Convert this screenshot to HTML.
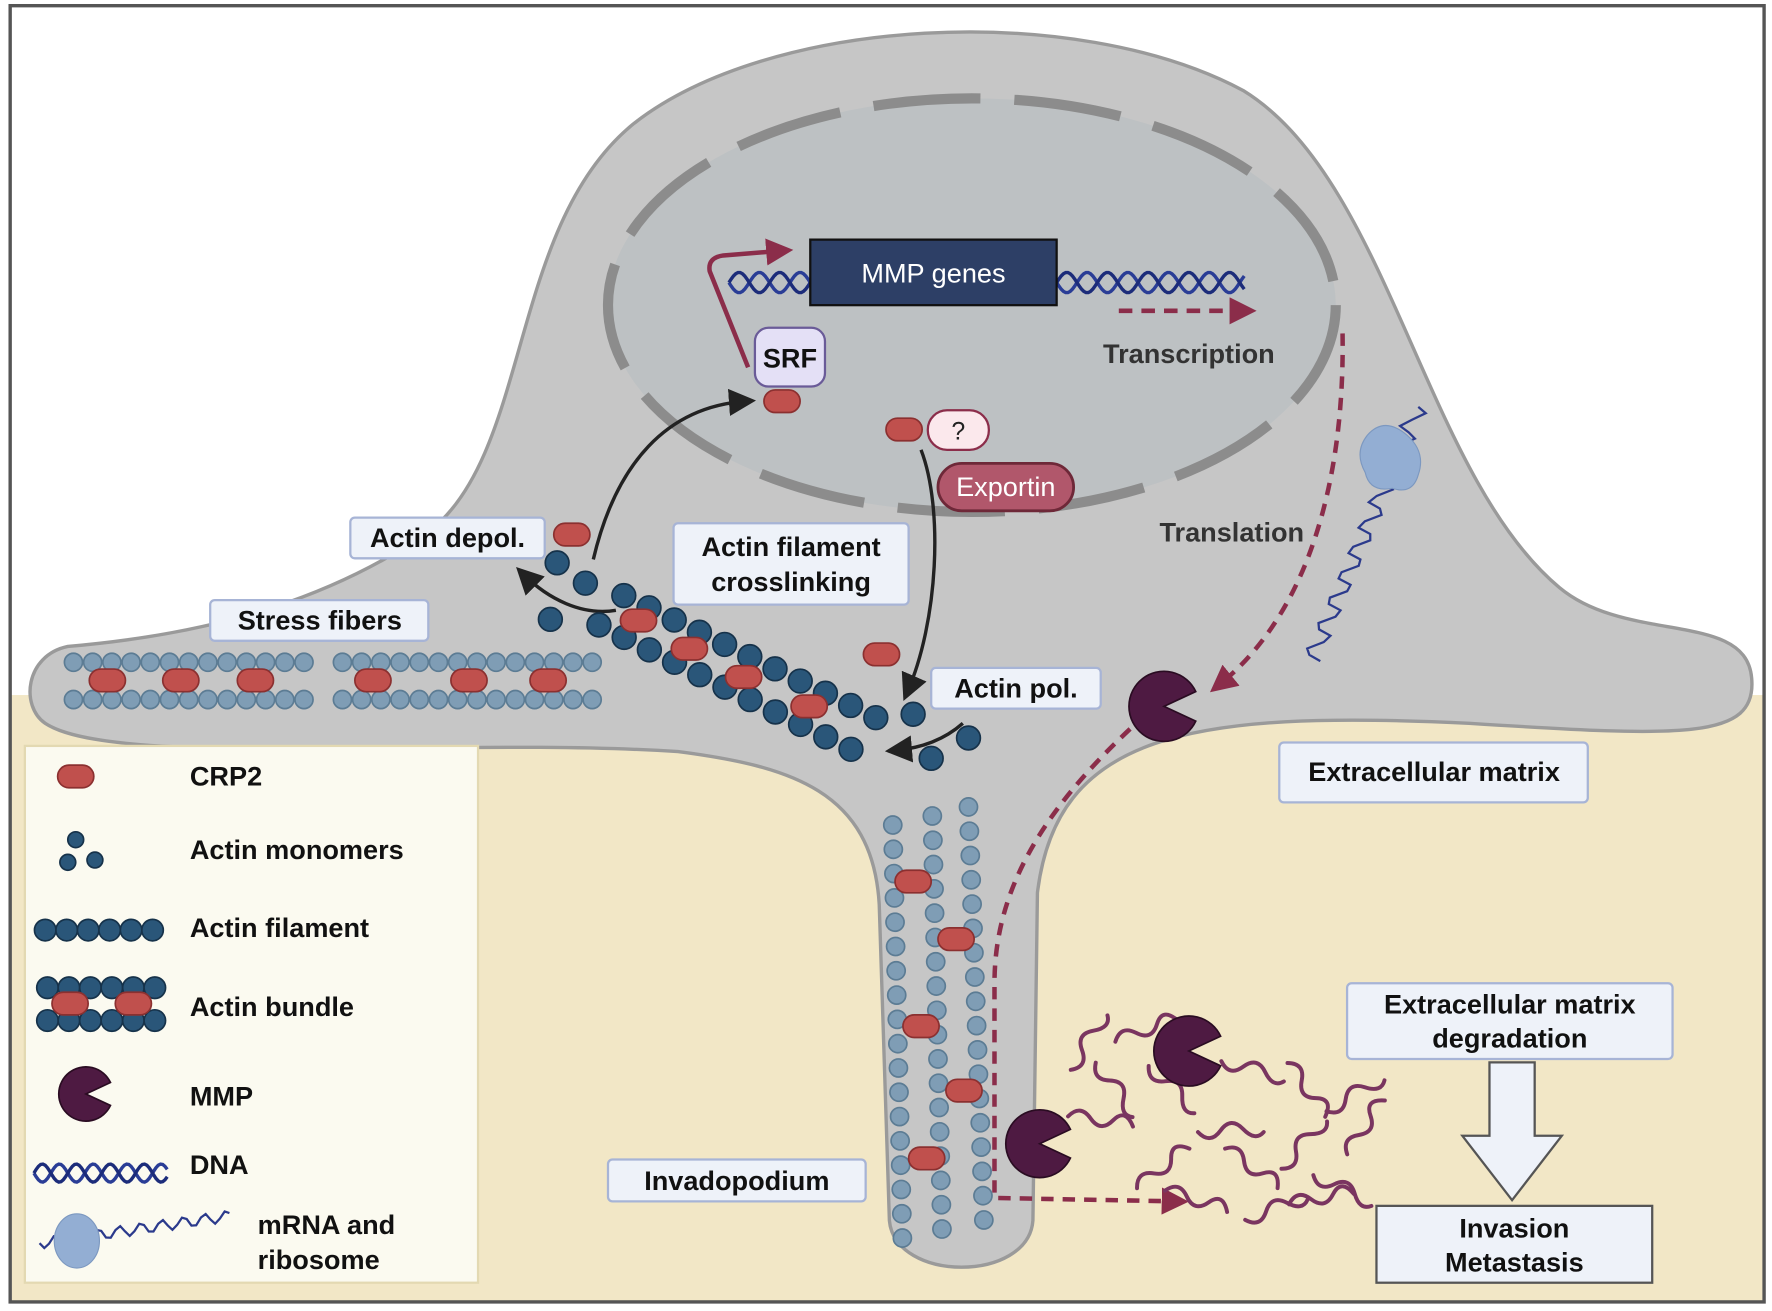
<!DOCTYPE html>
<html><head><meta charset="utf-8">
<style>
html,body{margin:0;padding:0;background:#fff;}
svg{display:block;}
text{font-family:"Liberation Sans",sans-serif;}
</style></head>
<body>
<svg id="s" width="1772" height="1311" viewBox="0 0 1568 1160" xmlns="http://www.w3.org/2000/svg">
<defs>
<marker id="ab" markerWidth="8" markerHeight="8" refX="5" refY="4" orient="auto" markerUnits="strokeWidth"><path d="M0,0 L8,4 L0,8 z" fill="#222"/></marker>
<marker id="ar" markerWidth="6" markerHeight="6" refX="3" refY="3" orient="auto" markerUnits="strokeWidth"><path d="M0,0 L6,3 L0,6 z" fill="#8b2d4a"/></marker>
</defs>
<rect x="0" y="0" width="1568" height="1160" fill="#fff"/>
<rect x="9" y="615" width="1552" height="537" fill="#f2e7c6"/>
<rect x="9" y="5" width="1552" height="1147" fill="none" stroke="#555" stroke-width="3"/>
<path d="M60,572 C200,560 300,525 380,470 C470,400 450,200 560,110 C680,15 950,0 1100,80 C1230,160 1260,420 1380,520 C1440,570 1545,540 1550,600 C1555,655 1490,652 1300,640 C1050,628 935,650 918,790 L914,1080 C910,1135 792,1135 787,1080 L778,800 C772,700 700,678 600,665 C400,652 100,680 40,640 C18,625 22,580 60,572 Z" fill="#c6c6c6" stroke="#9a9a9a" stroke-width="3"/>
<ellipse cx="860" cy="270" rx="322" ry="183" fill="#bdc1c3" stroke="#8c8c8c" stroke-width="9" stroke-dasharray="95,30"/>
<g id="dna" fill="none" stroke-width="3"></g>
<rect x="717" y="212" width="218" height="58" fill="#2d3f66" stroke="#111" stroke-width="2"/>
<text x="826" y="250" font-size="24" fill="#fff" text-anchor="middle">MMP genes</text>
<path d="M662,325 L628,240 Q626,228 640,226 L690,222" fill="none" stroke="#8b2d4a" stroke-width="4" marker-end="url(#ar)"/>
<line x1="990" y1="275" x2="1100" y2="275" stroke="#8b2d4a" stroke-width="4" stroke-dasharray="12,8" marker-end="url(#ar)"/>
<text x="1052" y="321" font-size="24" font-weight="bold" fill="#333" text-anchor="middle">Transcription</text>
<rect x="668" y="290" width="62" height="52" rx="12" fill="#e4e0f6" stroke="#6a5b98" stroke-width="2"/>
<text x="699" y="325" font-size="24" font-weight="bold" fill="#111" text-anchor="middle">SRF</text>
<rect x="821" y="363" width="54" height="35" rx="17" fill="#fbe8ec" stroke="#8b2d4a" stroke-width="2"/>
<text x="848" y="389" font-size="22" fill="#222" text-anchor="middle">?</text>
<rect x="830" y="410" width="120" height="42" rx="21" fill="#b1576b" stroke="#6e2838" stroke-width="2.5"/>
<text x="890" y="439" font-size="24" fill="#fff" text-anchor="middle">Exportin</text>
<text x="1090" y="479" font-size="24" font-weight="bold" fill="#333" text-anchor="middle">Translation</text>
<path d="M1188,295 C1190,420 1160,540 1080,605" fill="none" stroke="#8b2d4a" stroke-width="4" stroke-dasharray="11,8" marker-end="url(#ar)"/>
<path d="M1000,645 C920,720 880,790 880,870 L880,1060 L1040,1063" fill="none" stroke="#8b2d4a" stroke-width="4" stroke-dasharray="11,8" marker-end="url(#ar)"/>
<path id="mrna" d="" fill="none" stroke="#2b3a8c" stroke-width="2"/>
<path d="M1210,385 Q1225,368 1245,385 Q1262,400 1255,420 Q1250,438 1232,432 Q1212,436 1208,418 Q1198,400 1210,385Z" fill="#93aed3" stroke="#7c98c0"/>
<path d="M525,495 C545,410 590,360 660,355" fill="none" stroke="#222" stroke-width="3" marker-end="url(#ab)"/>
<path d="M545,540 C515,545 485,530 463,508" fill="none" stroke="#222" stroke-width="3" marker-end="url(#ab)"/>
<path d="M815,398 C835,450 830,550 803,612" fill="none" stroke="#222" stroke-width="3" marker-end="url(#ab)"/>
<path d="M852,640 C835,655 815,662 792,664" fill="none" stroke="#222" stroke-width="3" marker-end="url(#ab)"/>
<g id="beads"></g>
<g id="crp"></g>
<g id="sq" fill="none" stroke="#7a3560" stroke-width="3.5" stroke-linecap="round"></g>
<g id="mmp" fill="#4e1a42" stroke="#2a0c22" stroke-width="1.5"></g>
<g font-size="24" font-weight="bold" fill="#111" text-anchor="middle">
<rect x="310" y="458" width="172" height="36" rx="4" fill="#eef2f9" stroke="#a7b4d6" stroke-width="2"/><text x="396" y="484">Actin depol.</text>
<rect x="186" y="531" width="193" height="36" rx="4" fill="#eef2f9" stroke="#a7b4d6" stroke-width="2"/><text x="283" y="557">Stress fibers</text>
<rect x="596" y="463" width="208" height="72" rx="4" fill="#eef2f9" stroke="#a7b4d6" stroke-width="2"/><text x="700" y="492">Actin filament</text><text x="700" y="523">crosslinking</text>
<rect x="824" y="591" width="150" height="36" rx="4" fill="#eef2f9" stroke="#a7b4d6" stroke-width="2"/><text x="899" y="617">Actin pol.</text>
<rect x="1132" y="657" width="273" height="53" rx="4" fill="#eef2f9" stroke="#a7b4d6" stroke-width="2"/><text x="1269" y="691">Extracellular matrix</text>
<rect x="1192" y="870" width="288" height="67" rx="4" fill="#eef2f9" stroke="#a7b4d6" stroke-width="2"/><text x="1336" y="897">Extracellular matrix</text><text x="1336" y="927">degradation</text>
<rect x="538" y="1026" width="228" height="37" rx="4" fill="#eef2f9" stroke="#a7b4d6" stroke-width="2"/><text x="652" y="1053">Invadopodium</text>
<path d="M1318,940 L1358,940 L1358,1005 L1382,1005 L1338,1062 L1294,1005 L1318,1005 Z" fill="#eef2f9" stroke="#555" stroke-width="2"/>
<rect x="1218" y="1067" width="244" height="68" fill="#eef2f9" stroke="#555" stroke-width="2"/><text x="1340" y="1095">Invasion</text><text x="1340" y="1125">Metastasis</text>
</g>
<rect x="22" y="660" width="401" height="475" fill="#fbfaf0" stroke="#e3d9b2" stroke-width="2"/>
<g id="leg"></g>
<g font-size="24" font-weight="bold" fill="#111">
<text x="168" y="695">CRP2</text>
<text x="168" y="760">Actin monomers</text>
<text x="168" y="829">Actin filament</text>
<text x="168" y="899">Actin bundle</text>
<text x="168" y="978">MMP</text>
<text x="168" y="1039">DNA</text>
<text x="228" y="1092">mRNA and</text>
<text x="228" y="1123">ribosome</text>
</g>
<script>
const NS="http://www.w3.org/2000/svg";
function el(p,t,a){const e=document.createElementNS(NS,t);for(const k in a)e.setAttribute(k,a[k]);document.getElementById(p).appendChild(e);return e;}
function bead(x,y,r,light){el('beads','circle',{cx:x,cy:y,r:r,fill:light?'#7f9db5':'#2a5679',stroke:light?'#5c7c94':'#16324a','stroke-width':1.5});}
function leg(x,y,r,light){el('leg','circle',{cx:x,cy:y,r:r,fill:light?'#7f9db5':'#2a5679',stroke:'#16324a','stroke-width':1.5});}
function crp(g,x,y,rx,ry){el(g,'rect',{x:x-(rx||16),y:y-(ry||10),width:2*(rx||16),height:2*(ry||10),rx:(ry||10),fill:'#c0504d',stroke:'#8b3030','stroke-width':1.5});}
for(let x=65;x<=270;x+=17){bead(x,586,8,1);bead(x,619,8,1);}
for(let x=303;x<=535;x+=17){bead(x,586,8,1);bead(x,619,8,1);}
[95,160,226,330,415,485].forEach(x=>crp('crp',x,602));
for(let i=0;i<=10;i++){bead(552+i*22.3,527+i*10.8,10.5);bead(530+i*22.3,553+i*11,10.5);}
[[493,498],[518,516],[487,548],[808,632],[857,653],[824,671]].forEach(p=>bead(p[0],p[1],10.5));
[[565,549],[610,574],[658,599],[716,625]].forEach(p=>crp('crp',p[0],p[1]));
crp('crp',506,473);crp('crp',780,579);crp('crp',692,355);crp('crp',800,380);
for(let i=0;i<18;i++){let y=722+i*21.5;bead(790+i*0.5,y+8,8,1);bead(825+i*0.5,y,8,1);bead(857+i*0.8,y-8,8,1);}
[[808,780],[846,831],[815,908],[853,965],[820,1025]].forEach(p=>crp('crp',p[0],p[1]));
function helix(x0,x1,y,amp,per,g){let a='',b='';for(let x=x0;x<=x1;x+=2){let t=(x-x0)/per*2*Math.PI;a+=(x==x0?'M':'L')+x+','+(y+amp*Math.sin(t));b+=(x==x0?'M':'L')+x+','+(y-amp*Math.sin(t));}
el(g,'path',{d:a,stroke:'#2a3d96',fill:'none','stroke-width':3});el(g,'path',{d:b,stroke:'#1c2c7a',fill:'none','stroke-width':3});}
helix(645,717,250,9,36,'dna');helix(935,1102,250,9,36,'dna');
helix(30,148,1038,8,30,'leg');
let d='';for(let i=0;i<=40;i++){let t=i/40;let x=1255-95*t,y=360+225*t;x+=9*Math.sin(i*1.6);d+=(i?'L':'M')+x.toFixed(1)+','+y.toFixed(1);}
document.getElementById('mrna').setAttribute('d',d);
let d2='';for(let i=0;i<=40;i++){let x=35+i*4.2,y=1100-i*0.6+5*Math.sin(i*1.4);d2+=(i?'L':'M')+x+','+y;}
el('leg','path',{d:d2,fill:'none',stroke:'#2b3a8c','stroke-width':2});
el('leg','ellipse',{cx:68,cy:1098,rx:20,ry:24,fill:'#93aed3',stroke:'#7c98c0'});
const sq=[[935,925],[985,912],[1080,945],[1130,960],[1170,970],[945,990],[1010,960],[1000,1035],[1060,1000],[1080,1030],[1125,1015],[1140,1060],[1160,1050],[1180,1000],[1100,1070],[1030,1060],[960,960]];
sq.forEach((p,i)=>{let [x,y]=p;let s=i%2?1:-1;el('sq','path',{d:`M${x},${y} q10,${-12*s} 20,0 t20,0 t18,4`,transform:`rotate(${(i*37)%120-60} ${x+25} ${y})`});});
function pac(g,cx,cy,r){let a1=-25*Math.PI/180,a2=25*Math.PI/180;
el(g,'path',{d:`M${cx},${cy} L${cx+r*Math.cos(a2)},${cy+r*Math.sin(a2)} A${r},${r} 0 1 1 ${cx+r*Math.cos(a1)},${cy+r*Math.sin(a1)} Z`,fill:'#4e1a42',stroke:'#2a0c22','stroke-width':1.5});}
pac('mmp',1030,625,31);pac('mmp',1052,930,31);pac('mmp',920,1012,30);pac('leg',76,968,24);
crp('leg',67,687,16,10);
leg(67,743,7);leg(60,763,7);leg(84,761,7);
for(let i=0;i<6;i++)leg(40+i*19,823,9.5);
for(let i=0;i<6;i++){leg(42+i*19,874,9.5);leg(42+i*19,903,9.5);}
crp('leg',62,888,16,10);crp('leg',118,888,16,10);
</script>
</svg>
</body></html>
